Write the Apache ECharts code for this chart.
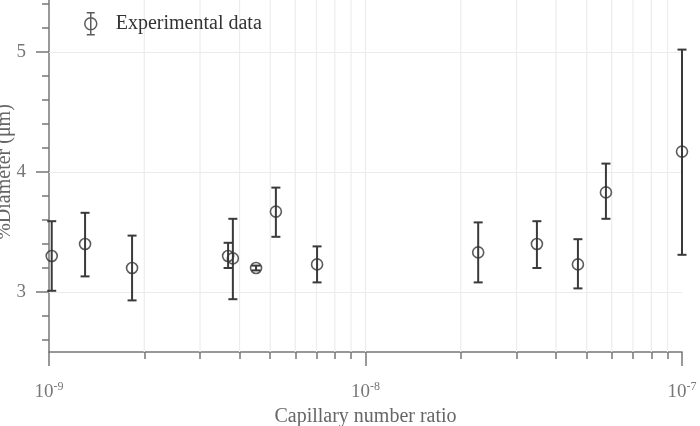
<!DOCTYPE html>
<html>
<head>
<meta charset="utf-8">
<script src="https://cdn.jsdelivr.net/npm/echarts@6/dist/echarts.min.js"></script>
<style>
  html, body { margin: 0; padding: 0; background: #fff; }
  #chart { width: 700px; height: 426px; }
</style>
</head>
<body>
<div id="chart"></div>
<script>
// capillary number ratio (x) and diameter with error range (y)
var capRatio = [1.02e-9, 1.30e-9, 1.83e-9, 3.68e-9, 3.81e-9, 4.51e-9, 5.21e-9, 7.03e-9,
                2.27e-8, 3.48e-8, 4.69e-8, 5.75e-8, 1.0e-7];
var diameter = [3.30, 3.40, 3.20, 3.30, 3.28, 3.20, 3.67, 3.23, 3.33, 3.40, 3.23, 3.83, 4.17];
var errLow   = [3.01, 3.13, 2.93, 3.20, 2.94, 3.18, 3.46, 3.08, 3.08, 3.20, 3.03, 3.61, 3.31];
var errHigh  = [3.59, 3.66, 3.47, 3.41, 3.61, 3.22, 3.87, 3.38, 3.58, 3.59, 3.44, 4.07, 5.02];

var yMajor = [3, 4, 5];
var yMinor = [2.6, 2.8, 3.2, 3.4, 3.6, 3.8, 4.2, 4.4, 4.6, 4.8, 5.2, 5.4];
var xMinor = [2e-9, 3e-9, 4e-9, 5e-9, 6e-9, 7e-9, 8e-9, 9e-9,
              2e-8, 3e-8, 4e-8, 5e-8, 6e-8, 7e-8, 8e-8, 9e-8];

var serif = '"Liberation Serif", "DejaVu Serif", serif';
var chart = echarts.init(document.getElementById('chart'));

var points = [], bars = [];
for (var i = 0; i < capRatio.length; i++) {
    points.push([capRatio[i], diameter[i]]);
    bars.push([capRatio[i], errLow[i], errHigh[i]]);
}

// vertical grid lines at the minor decades + 10^-8
var vGrid = xMinor.concat([1e-8]).map(function (v) { return [v]; });

var legendIcon = 'path://M2,0 L10,0 M6,0 L6,22 M2,22 L10,22 M12,11 A6,6 0 1 1 0,11 A6,6 0 1 1 12,11 Z';

chart.setOption({
    animation: false,
    grid: { left: 49, right: 18, top: -8, bottom: 74, outerBoundsMode: 'none', containLabel: false },
    legend: {
        left: 79, top: 7,
        data: [{ name: 'Experimental data', icon: legendIcon }],
        itemWidth: 12, itemHeight: 23,
        itemStyle: { color: 'rgba(0,0,0,0)', borderColor: '#333', borderWidth: 1.5 },
        textStyle: { fontFamily: serif, fontSize: 20, color: '#333', padding: [0, 0, 0, 14] }
    },
    xAxis: [{
        type: 'log', logBase: 10, min: 1e-9, max: 1e-7,
        name: 'Capillary number ratio', nameLocation: 'middle', nameGap: 54,
        nameTextStyle: { fontFamily: serif, fontSize: 20, color: '#666' },
        axisLine: { lineStyle: { color: '#777', width: 1.5 } },
        axisTick: { inside: false, length: 14, lineStyle: { color: '#777', width: 1.5 } },
        splitLine: { show: false },
        axisLabel: {
            margin: 29,
            formatter: function (v) {
                return '10{sup|' + Math.round(Math.log10(v)) + '}';
            },
            fontFamily: serif, fontSize: 19, color: '#777',
            rich: { sup: { fontFamily: serif, fontSize: 12, color: '#777', verticalAlign: 'top', padding: [0, 0, 10, 0] } }
        }
    }, {
        type: 'log', logBase: 10, min: 1e-9, max: 1e-7, position: 'bottom',
        axisLine: { show: false },
        axisTick: { customValues: xMinor, length: 7, lineStyle: { color: '#777', width: 1.5 } },
        axisLabel: { show: false },
        splitLine: { show: false }
    }],
    yAxis: [{
        type: 'value', min: 2.5, max: 5.5,
        name: '%Diameter (\u03bcm)', nameLocation: 'middle', nameGap: 34, nameRotate: 90,
        nameMoveOverlap: false,
        nameTextStyle: { fontFamily: serif, fontSize: 20, color: '#666' },
        axisLine: { show: true, lineStyle: { color: '#777', width: 1.5 } },
        axisTick: { show: true, customValues: yMajor, length: 13, lineStyle: { color: '#777', width: 1.5 } },
        axisLabel: { customValues: yMajor, margin: 23, fontFamily: serif, fontSize: 19, color: '#777' },
        splitLine: { show: false }
    }, {
        type: 'value', min: 2.5, max: 5.5, position: 'left',
        axisLine: { show: false },
        axisTick: { show: true, customValues: yMinor, length: 7, lineStyle: { color: '#777', width: 1.5 } },
        axisLabel: { show: false },
        splitLine: { show: false }
    }],
    series: [{
        type: 'custom',
        name: 'vgrid',
        silent: true,
        z: 1,
        data: vGrid,
        encode: { x: 0 },
        renderItem: function (params, api) {
            var x = api.value(0);
            var a = api.coord([x, 2.5]);
            var b = api.coord([x, 5.5]);
            return { type: 'line', shape: { x1: a[0], y1: a[1], x2: b[0], y2: b[1] },
                     style: { stroke: '#ececec', lineWidth: 1.2 } };
        }
    }, {
        type: 'custom',
        name: 'errorbars',
        clip: false,
        encode: { x: 0, y: [1, 2] },
        data: bars,
        z: 3,
        renderItem: function (params, api) {
            var x = api.value(0);
            var lo = api.coord([x, api.value(1)]);
            var hi = api.coord([x, api.value(2)]);
            var w = 4.5;
            var style = { stroke: '#3a3a3a', lineWidth: 2 };
            return {
                type: 'group',
                children: [
                    { type: 'line', shape: { x1: lo[0], y1: lo[1], x2: hi[0], y2: hi[1] }, style: style },
                    { type: 'line', shape: { x1: lo[0] - w, y1: lo[1], x2: lo[0] + w, y2: lo[1] }, style: style },
                    { type: 'line', shape: { x1: hi[0] - w, y1: hi[1], x2: hi[0] + w, y2: hi[1] }, style: style }
                ]
            };
        }
    }, {
        type: 'scatter',
        name: 'Experimental data',
        clip: false,
        data: points,
        symbol: 'circle',
        symbolSize: 11,
        z: 4,
        itemStyle: { color: 'rgba(0,0,0,0)', borderColor: '#333', borderWidth: 1.6 },
        markLine: {
            silent: true,
            symbol: 'none',
            label: { show: false },
            lineStyle: { color: '#ebebeb', width: 1.2, type: 'solid' },
            z: 1,
            data: yMajor.map(function (v) { return { yAxis: v }; })
        }
    }]
});
</script>
</body>
</html>
